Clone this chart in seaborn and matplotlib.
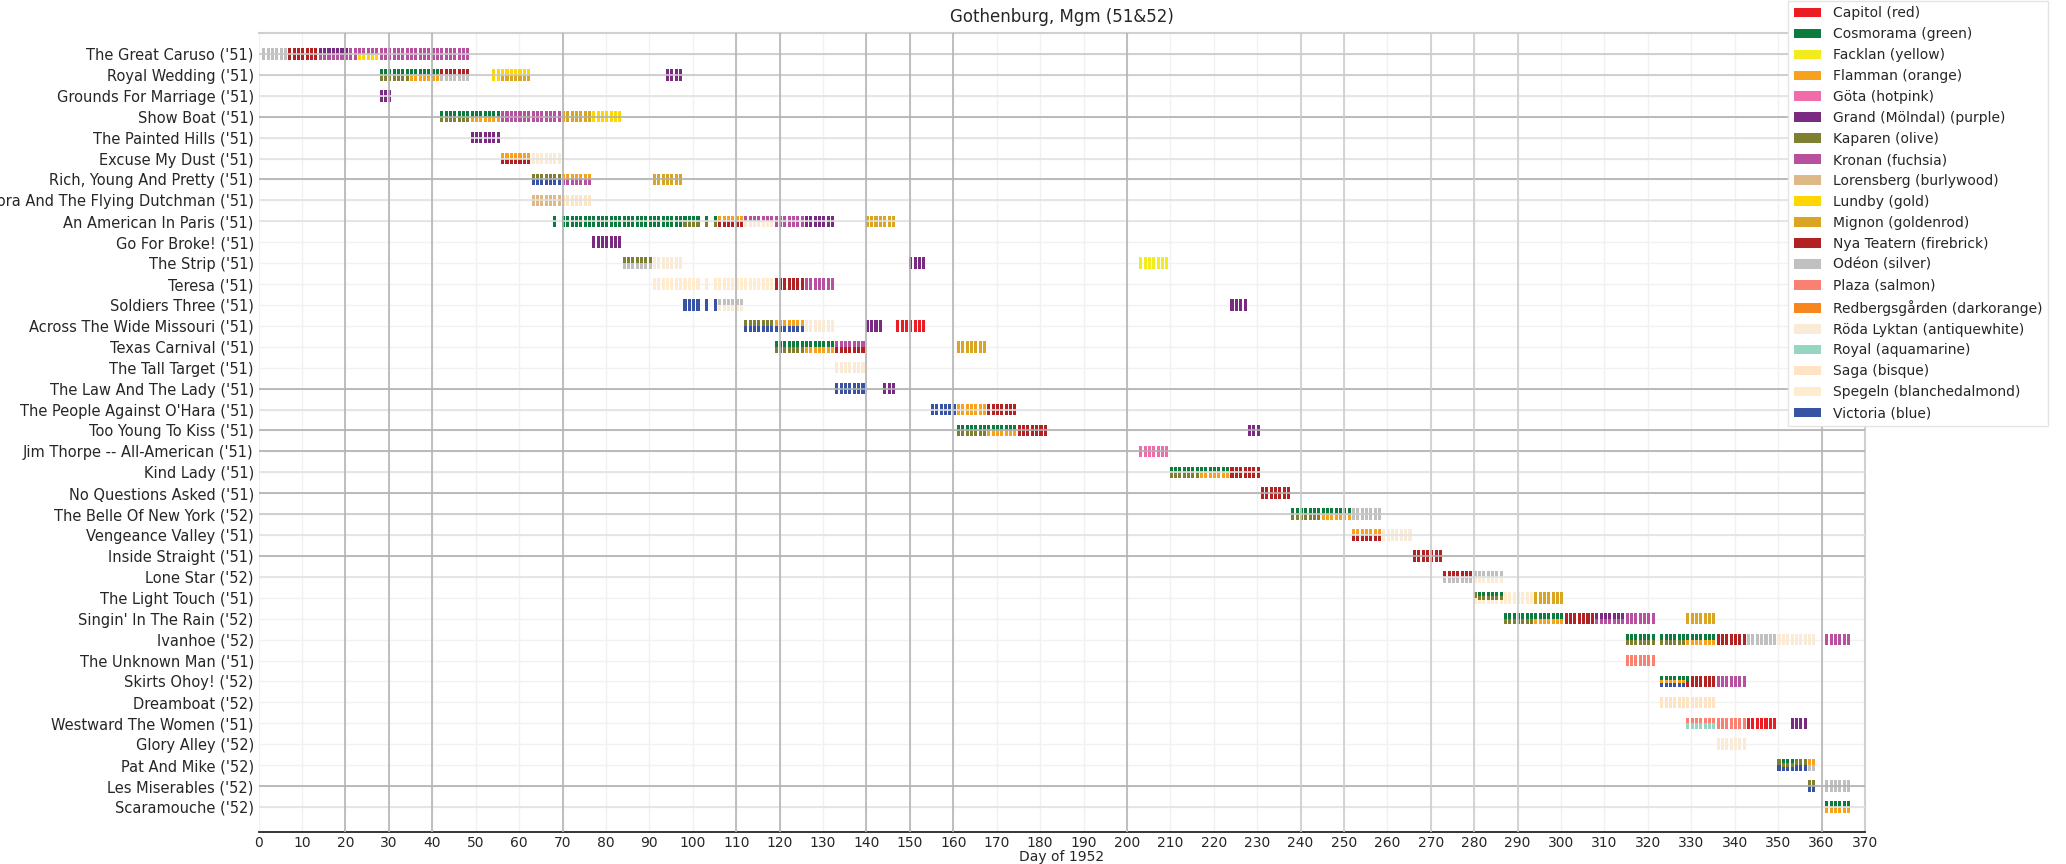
import matplotlib
matplotlib.use("Agg")
import matplotlib.pyplot as plt
import pandas as pd
import seaborn as sns
from matplotlib.patches import Patch

# films in row order (top to bottom)
films = [
    "The Great Caruso ('51)", "Royal Wedding ('51)", "Grounds For Marriage ('51)",
    "Show Boat ('51)", "The Painted Hills ('51)", "Excuse My Dust ('51)",
    "Rich, Young And Pretty ('51)", "Pandora And The Flying Dutchman ('51)",
    "An American In Paris ('51)", "Go For Broke! ('51)", "The Strip ('51)",
    "Teresa ('51)", "Soldiers Three ('51)", "Across The Wide Missouri ('51)",
    "Texas Carnival ('51)", "The Tall Target ('51)", "The Law And The Lady ('51)",
    "The People Against O'Hara ('51)", "Too Young To Kiss ('51)",
    "Jim Thorpe -- All-American ('51)", "Kind Lady ('51)", "No Questions Asked ('51)",
    "The Belle Of New York ('52)", "Vengeance Valley ('51)", "Inside Straight ('51)",
    "Lone Star ('52)", "The Light Touch ('51)", "Singin' In The Rain ('52)",
    "Ivanhoe ('52)", "The Unknown Man ('51)", "Skirts Ohoy! ('52)", "Dreamboat ('52)",
    "Westward The Women ('51)", "Glory Alley ('52)", "Pat And Mike ('52)",
    "Les Miserables ('52)", "Scaramouche ('52)",
]

cinemas = ["Capitol", "Cosmorama", "Facklan", "Flamman", "Göta", "Grand", "Kaparen",
           "Kronan", "Lorensberg", "Lundby", "Mignon", "Nya", "Odéon", "Plaza",
           "Redbergsgården", "Röda", "Royal", "Saga", "Spegeln", "Victoria"]
cinema_names = ["Capitol", "Cosmorama", "Facklan", "Flamman", "Göta", "Grand (Mölndal)",
                "Kaparen", "Kronan", "Lorensberg", "Lundby", "Mignon", "Nya Teatern",
                "Odéon", "Plaza", "Redbergsgården", "Röda Lyktan", "Royal", "Saga",
                "Spegeln", "Victoria"]
colour_names = ["red", "green", "yellow", "orange", "hotpink", "purple", "olive", "fuchsia",
                "burlywood", "gold", "goldenrod", "firebrick", "silver", "salmon",
                "darkorange", "antiquewhite", "aquamarine", "bisque", "blanchedalmond", "blue"]
cinema_colors = ["#ec1c24", "#0b7b3e", "#f2ec1c", "#f7a21d", "#f06ba8", "#7b2a81",
                 "#7f7f32", "#b7509f", "#deb887", "#fed700", "#daa520", "#b22222",
                 "#c0c0c0", "#fa8072", "#f7861f", "#faebd7", "#96d5c0", "#ffe4c4",
                 "#ffebcd", "#3953a4"]

# runs per film: cinema, first day, last day
run_cinema = [
    ["Odéon", "Nya", "Grand", "Kronan", "Lundby"],
    ["Cosmorama", "Kaparen", "Flamman", "Nya", "Odéon", "Lundby", "Mignon", "Grand"],
    ["Grand"],
    ["Cosmorama", "Kaparen", "Flamman", "Kronan", "Mignon", "Lundby"],
    ["Grand"],
    ["Flamman", "Nya", "Röda"],
    ["Kaparen", "Victoria", "Flamman", "Kronan", "Mignon"],
    ["Lorensberg", "Saga"],
    ["Cosmorama", "Cosmorama", "Kaparen", "Flamman", "Nya", "Kronan", "Röda", "Grand", "Mignon"],
    ["Grand"],
    ["Kaparen", "Odéon", "Röda", "Grand", "Facklan"],
    ["Spegeln", "Nya", "Kronan"],
    ["Victoria", "Odéon", "Röda", "Grand"],
    ["Kaparen", "Victoria", "Flamman", "Röda", "Grand", "Capitol"],
    ["Cosmorama", "Kaparen", "Flamman", "Kronan", "Nya", "Mignon"],
    ["Röda"],
    ["Victoria", "Grand"],
    ["Victoria", "Flamman", "Nya"],
    ["Cosmorama", "Kaparen", "Flamman", "Nya", "Grand"],
    ["Göta"],
    ["Cosmorama", "Kaparen", "Flamman", "Nya"],
    ["Nya"],
    ["Cosmorama", "Kaparen", "Flamman", "Odéon"],
    ["Flamman", "Nya", "Röda"],
    ["Nya"],
    ["Nya", "Odéon", "Röda"],
    ["Cosmorama", "Kaparen", "Spegeln", "Mignon"],
    ["Cosmorama", "Kaparen", "Flamman", "Nya", "Grand", "Kronan", "Mignon"],
    ["Cosmorama", "Kaparen", "Flamman", "Nya", "Odéon", "Röda", "Kronan"],
    ["Plaza"],
    ["Cosmorama", "Flamman", "Victoria", "Nya", "Kronan"],
    ["Saga"],
    ["Plaza", "Royal", "Capitol", "Grand"],
    ["Röda"],
    ["Cosmorama", "Kaparen", "Victoria", "Flamman", "Odéon"],
    ["Kaparen", "Victoria", "Odéon"],
    ["Cosmorama", "Flamman"],
]
run_first = [
    [1, 7, 14, 14, 23],
    [28, 28, 35, 42, 42, 54, 56, 94],
    [28],
    [42, 42, 49, 56, 70, 77],
    [49],
    [56, 56, 63],
    [63, 63, 70, 70, 91],
    [63, 70],
    [68, 70, 98, 106, 106, 112, 112, 126, 140],
    [77],
    [84, 84, 91, 150, 203],
    [91, 119, 126],
    [98, 106, 106, 224],
    [112, 112, 119, 126, 140, 147],
    [119, 119, 126, 133, 133, 161],
    [133],
    [133, 144],
    [155, 161, 168],
    [161, 161, 168, 175, 228],
    [203],
    [210, 210, 217, 224],
    [231],
    [238, 238, 245, 252],
    [252, 252, 259],
    [266],
    [273, 273, 280],
    [281, 280, 280, 294],
    [287, 287, 294, 301, 308, 308, 329],
    [315, 315, 329, 336, 343, 350, 361],
    [315],
    [323, 323, 323, 329, 336],
    [323],
    [329, 329, 343, 353],
    [336],
    [351, 350, 350, 357, 357],
    [357, 357, 361],
    [361, 361],
]
run_last = [
    [6, 13, 20, 48, 27],
    [41, 34, 41, 48, 48, 62, 62, 97],
    [30],
    [55, 48, 55, 69, 76, 83],
    [55],
    [62, 62, 69],
    [69, 69, 76, 76, 97],
    [69, 76],
    [68, 105, 105, 111, 111, 125, 118, 132, 146],
    [83],
    [90, 90, 97, 153, 209],
    [118, 125, 132],
    [105, 111, 111, 227],
    [118, 125, 125, 132, 143, 153],
    [132, 125, 132, 139, 139, 167],
    [139],
    [139, 146],
    [160, 167, 174],
    [174, 167, 174, 181, 230],
    [209],
    [223, 216, 223, 230],
    [237],
    [251, 244, 251, 258],
    [258, 258, 265],
    [272],
    [279, 286, 286],
    [286, 286, 293, 300],
    [300, 293, 300, 307, 314, 321, 335],
    [335, 328, 335, 342, 349, 358, 366],
    [321],
    [329, 328, 328, 335, 342],
    [335],
    [342, 335, 349, 356],
    [342],
    [353, 356, 356, 358, 358],
    [358, 358, 366],
    [366, 366],
]
no_show_days = [102, 104, 322]

# one cell per film / cinema / day
cells = []
for i in range(len(films)):
    for c, f, l in zip(run_cinema[i], run_first[i], run_last[i]):
        for d in range(f, l + 1):
            if d not in no_show_days:
                cells.append((i, c, d))
df = pd.DataFrame(cells, columns=["film", "cinema", "day"]).drop_duplicates()
df["order"] = df["cinema"].map({c: k for k, c in enumerate(cinemas)})
df = df.sort_values(["film", "day", "order"])
df["slot"] = df.groupby(["film", "day"]).cumcount()
df["n"] = df.groupby(["film", "day"])["cinema"].transform("size")
H = 0.55
df["h"] = H / df["n"]
df["bottom"] = df["film"] - H / 2 + df["slot"] * df["h"]
colour_of = dict(zip(cinemas, cinema_colors))

sns.set_theme(style="whitegrid")
plt.rcParams["font.family"] = ["DejaVu Sans"]

fig = plt.figure(figsize=(20.66, 8.64), dpi=100)
ax = fig.add_axes([0.1252, 0.037, 0.7775, 0.9248])

ax.bar(df["day"] + 0.2, df["h"], width=0.7, bottom=df["bottom"],
       color=df["cinema"].map(colour_of), linewidth=0, zorder=2)

ax.set_xlim(0, 370)
ax.set_ylim(37.2, -1.0)
ax.set_xticks(range(0, 371, 10))
ax.set_yticks(range(len(films)))
ax.set_yticklabels(films)
ax.grid(True, color="#f1f1f1", linewidth=1, zorder=0)
ax.set_axisbelow(True)

# darker guide lines seen in the original
light_rows = [2, 4, 5, 7, 8, 17, 20, 23, 25, 36]
mid_rows = [0, 1, 22]
dark_rows = [3, 6, 16, 18, 19, 21, 24, 35]
for r in light_rows:
    ax.axhline(r, color="#e2e2e2", lw=1.2, zorder=3)
for r in mid_rows:
    ax.axhline(r, color="#c8c8c8", lw=1.2, zorder=3)
for r in dark_rows:
    ax.axhline(r, color="#b0b0b0", lw=1.2, zorder=3)
for d in [20, 30, 40, 70, 110, 120, 140, 150, 160, 200, 360]:
    ax.axvline(d, color="#b4b4b4", lw=1.2, zorder=3)
for d in [240, 250, 270, 280, 290]:
    ax.axvline(d, color="#cdcdcd", lw=1.2, zorder=3)

for s in ["top", "right"]:
    ax.spines[s].set_color("#d0d0d0")
    ax.spines[s].set_linewidth(1.5)
ax.spines["left"].set_visible(False)
ax.spines["bottom"].set_color("#262626")
ax.spines["bottom"].set_linewidth(1.3)
ax.tick_params(axis="x", length=2, width=1, color="#262626", labelsize=10, pad=0.5,
               labelcolor="#262626")
ax.tick_params(axis="y", length=2, width=1, color="#555555", labelsize=10.5, pad=1.5,
               labelcolor="#262626")

ax.set_xlabel("Day of 1952", fontsize=10, labelpad=0, color="#262626")
ax.set_title("Gothenburg, Mgm (51&52)", fontsize=12, pad=8, color="#262626")

handles = [Patch(facecolor=c, edgecolor="none", label=f"{n} ({cn})")
           for n, cn, c in zip(cinema_names, colour_names, cinema_colors)]
fig.legend(handles=handles, loc="upper left", bbox_to_anchor=(0.8655, 0.999),
           fontsize=10, frameon=True, framealpha=1, edgecolor="#e4e4e4",
           borderaxespad=0, labelspacing=0.5, handlelength=2.0, fancybox=False)

fig.savefig("out.png", dpi=100)
